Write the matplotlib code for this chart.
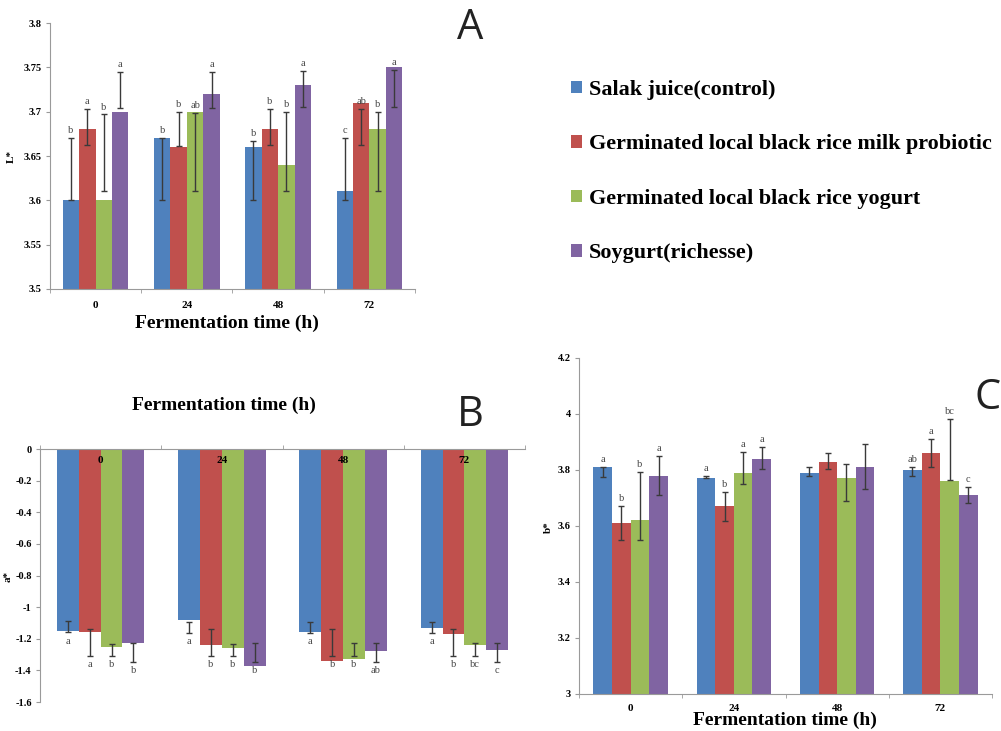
import matplotlib
matplotlib.use('Agg')
import matplotlib.pyplot as plt
import numpy as np
from matplotlib.patches import Patch

plt.rcParams['font.family'] = 'serif'
plt.rcParams['font.serif'] = ['Liberation Serif', 'DejaVu Serif']
plt.rcParams['axes.unicode_minus'] = False

W, H = 1001, 731

times = ['0', '24', '48', '72']
series = ['Salak juice(control)',
          'Germinated local black rice milk probiotic',
          'Germinated local black rice yogurt',
          'Soygurt(richesse)']
colors = ['#4F81BD', '#C0504D', '#9BBB59', '#8064A2']

# panel A, L*  (rows = series, cols = time)
L_vals = [[3.60, 3.67, 3.66, 3.61],
          [3.68, 3.66, 3.68, 3.71],
          [3.60, 3.70, 3.64, 3.68],
          [3.70, 3.72, 3.73, 3.75]]
L_lo = [[3.600, 3.600, 3.600, 3.600],
        [3.662, 3.661, 3.662, 3.662],
        [3.611, 3.611, 3.611, 3.611],
        [3.704, 3.704, 3.705, 3.705]]
L_hi = [[3.670, 3.670, 3.667, 3.670],
        [3.703, 3.700, 3.703, 3.703],
        [3.697, 3.699, 3.700, 3.700],
        [3.745, 3.745, 3.746, 3.747]]
L_sig = [['b', 'b', 'b', 'c'],
         ['a', 'b', 'b', 'ab'],
         ['b', 'ab', 'b', 'b'],
         ['a', 'a', 'a', 'a']]

# panel B, a*
a_vals = [[-1.15, -1.08, -1.16, -1.13],
          [-1.16, -1.24, -1.34, -1.17],
          [-1.25, -1.26, -1.33, -1.24],
          [-1.23, -1.37, -1.28, -1.27]]
a_lo = [[-1.160, -1.163, -1.165, -1.163],
        [-1.310, -1.310, -1.310, -1.310],
        [-1.310, -1.310, -1.310, -1.310],
        [-1.346, -1.346, -1.346, -1.346]]
a_hi = [[-1.090, -1.093, -1.093, -1.093],
        [-1.141, -1.141, -1.141, -1.141],
        [-1.234, -1.234, -1.230, -1.230],
        [-1.230, -1.230, -1.230, -1.230]]
a_sig = [['a', 'a', 'a', 'a'],
         ['a', 'b', 'b', 'b'],
         ['b', 'b', 'b', 'bc'],
         ['b', 'b', 'ab', 'c']]

# panel C, b*
b_vals = [[3.81, 3.77, 3.79, 3.80],
          [3.61, 3.67, 3.83, 3.86],
          [3.62, 3.79, 3.77, 3.76],
          [3.78, 3.84, 3.81, 3.71]]
b_lo = [[3.774, 3.771, 3.777, 3.777],
        [3.550, 3.619, 3.803, 3.810],
        [3.550, 3.751, 3.691, 3.765],
        [3.711, 3.803, 3.732, 3.682]]
b_hi = [[3.810, 3.779, 3.810, 3.810],
        [3.672, 3.721, 3.862, 3.911],
        [3.792, 3.864, 3.821, 3.982],
        [3.851, 3.882, 3.893, 3.741]]
b_sig = [['a', 'a', '', 'ab'],
         ['b', 'b', '', 'a'],
         ['b', 'a', '', 'bc'],
         ['a', 'a', '', 'c']]

fig = plt.figure(figsize=(W / 100, H / 100), dpi=100)


def px_axes(l, t, r, b):
    return fig.add_axes([l / W, 1 - b / H, (r - l) / W, (b - t) / H])


def fmt(v, nd):
    return '%g' % (round(v, nd) + 0.0)


gray = '#9A9A9A'
bw = 0.18
x = np.arange(len(times))


def draw(ax, vals, lo, hi, sig, above=True):
    for j in range(4):
        xs = x + (j - 1.5) * bw
        ax.bar(xs, vals[j], bw, color=colors[j], zorder=2)
        lo_j = np.array(lo[j])
        hi_j = np.array(hi[j])
        ax.errorbar(xs, (lo_j + hi_j) / 2, yerr=(hi_j - lo_j) / 2, fmt='none',
                    ecolor='#3A3A3A', elinewidth=1, capsize=2.5, capthick=1, zorder=3)
        for k in range(len(times)):
            if not sig[j][k]:
                continue
            if above:
                ax.annotate(sig[j][k], (xs[k], hi_j[k]), xytext=(0, 2),
                            textcoords='offset points', ha='center', va='bottom',
                            fontsize=7.5, color='#444444', zorder=4)
            else:
                ax.annotate(sig[j][k], (xs[k], lo_j[k]), xytext=(0, -3),
                            textcoords='offset points', ha='center', va='top',
                            fontsize=7.5, color='#444444', zorder=4)
    ax.set_xlim(-0.5, len(times) - 0.5)
    for s in ax.spines.values():
        s.set_color(gray)
    ax.spines['right'].set_visible(False)
    ax.set_xticks(np.arange(-0.5, len(times), 1.0), minor=True)
    ax.tick_params(axis='x', which='minor', length=3, color=gray)
    ax.tick_params(axis='y', length=3, color=gray, pad=3)


# ---- A ----
axA = px_axes(50, 23, 415, 289)
draw(axA, L_vals, L_lo, L_hi, L_sig)
axA.set_ylim(3.5, 3.8)
yt = np.arange(3.5, 3.801, 0.05)
axA.set_yticks(yt, labels=[fmt(v, 2) for v in yt], fontweight='bold', fontsize=7.5)
axA.set_xticks(x, labels=times, fontweight='bold', fontsize=8)
axA.tick_params(axis='x', which='major', length=0, pad=9)
axA.spines['top'].set_visible(False)
fig.text(227 / W, 1 - 323 / H, 'Fermentation time (h)', ha='center', va='center',
         fontsize=14, fontweight='bold')
fig.text(11 / W, 1 - 156 / H, 'L*', rotation=90, ha='center', va='center',
         fontsize=8, fontweight='bold')
fig.text(470 / W, 1 - 28 / H, 'A', ha='center', va='center', fontsize=30,
         family='Open Sans', color='#222222')

# ---- B ----
axB = px_axes(40, 449, 525, 702)
draw(axB, a_vals, a_lo, a_hi, a_sig, above=False)
axB.set_ylim(-1.6, 0)
yt = np.arange(-1.6, 0.001, 0.2)
axB.set_yticks(yt, labels=[fmt(v, 1) for v in yt], fontweight='bold', fontsize=7.5)
axB.spines['bottom'].set_visible(False)
axB.xaxis.tick_top()
axB.set_xticks(x, labels=[])
axB.tick_params(axis='x', which='major', length=0)
axB.tick_params(axis='x', which='minor', top=True, bottom=False)
for k, t in enumerate(times):
    axB.annotate(t, (k, 0), xytext=(0, -5), textcoords='offset points', ha='center',
                 va='top', fontsize=8, fontweight='bold', zorder=5)
fig.text(224 / W, 1 - 405 / H, 'Fermentation time (h)', ha='center', va='center',
         fontsize=14, fontweight='bold')
fig.text(8 / W, 1 - 576 / H, 'a*', rotation=90, ha='center', va='center',
         fontsize=8, fontweight='bold')
fig.text(470 / W, 1 - 415 / H, 'B', ha='center', va='center', fontsize=30,
         family='Open Sans', color='#222222')

# ---- C ----
axC = px_axes(579, 358, 992, 694)
draw(axC, b_vals, b_lo, b_hi, b_sig)
axC.set_ylim(3.0, 4.2)
yt = np.arange(3.0, 4.201, 0.2)
axC.set_yticks(yt, labels=[fmt(v, 1) for v in yt], fontweight='bold', fontsize=7.5)
axC.set_xticks(x, labels=times, fontweight='bold', fontsize=8)
axC.tick_params(axis='x', which='major', length=0, pad=7)
axC.spines['top'].set_visible(False)
fig.text(785 / W, 1 - 720 / H, 'Fermentation time (h)', ha='center', va='center',
         fontsize=14, fontweight='bold')
fig.text(548 / W, 1 - 527 / H, 'b*', rotation=90, ha='center', va='center',
         fontsize=8, fontweight='bold')
fig.text(988 / W, 1 - 398 / H, 'C', ha='center', va='center', fontsize=30,
         family='Open Sans', color='#222222')

# legend
handles = [Patch(facecolor=c) for c in colors]
fig.legend(handles, series, loc='upper left', bbox_to_anchor=(571 / W, 1 - 80 / H),
           frameon=False, borderpad=0, borderaxespad=0, handlelength=0.5,
           handleheight=0.5, handletextpad=0.3, labelspacing=1.56,
           prop={'size': 15.9, 'weight': 'bold'})

fig.savefig('out.png', dpi=100)
